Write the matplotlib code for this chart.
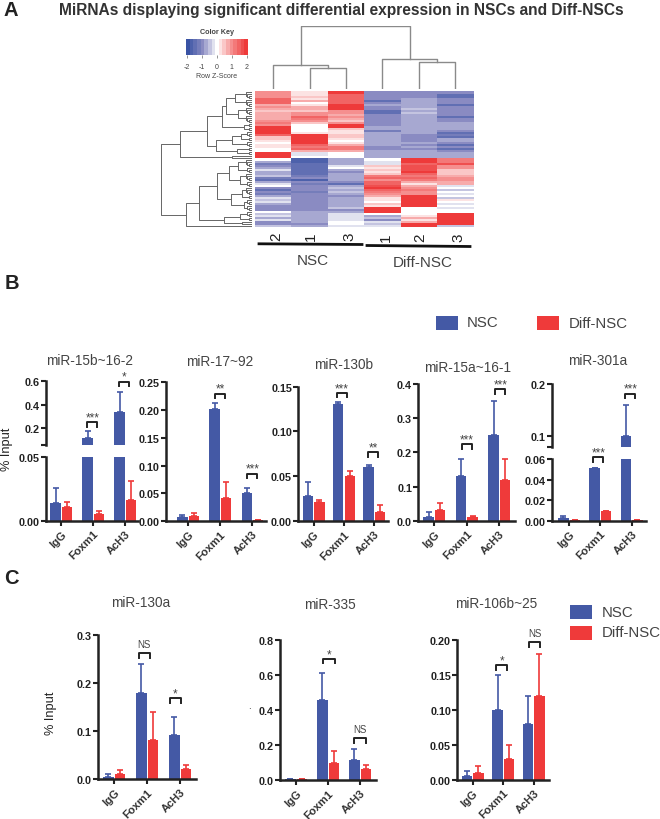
import numpy as np
import matplotlib
matplotlib.use('Agg')
import matplotlib.pyplot as plt
from matplotlib.colors import LinearSegmentedColormap
from matplotlib.patches import Rectangle

plt.rcParams['font.family'] = ['Liberation Sans', 'DejaVu Sans']

W, H = 660, 820
BLUE = '#4459A5'
RED = '#EF3A3A'
DARK = '#222222'
TEXT = '#444444'

# heatmap z-scores, one list per column, rows top to bottom
sample_labels = ['2', '1', '3', '1', '2', '3']
nsc_2 = [.9, .9, .9, .9, 1.3, 1.3, 1.3, .7, .9, .6, .4, .7, .8, .6, .8, 1.0, 1.1, .9,
         1.9, 1.9, 1.9, 1.9, 1.5, .5, .4, .3, .05, .3, .2, .1, .05, 2, 2, 2,
         .1, -.6, -1.1, -1, -.8, -.3, -.6, -.8, -.5, -1.2, -1.4, -.8, -.3, 0, -1, -1.3, -.9, -1.2, -.6, -.3,
         -.5, -.3, -.6, -1, -1, -1, 0, -.4, -.3, -.6, -.3, -1, -.9, -.5]
nsc_1 = [.2, .2, .2, .5, .3, .6, 0, .3, .6, .7, .5, .9, 1, 1.3, 1.1, .9, .5, 0,
         0, 0, 0, .3, 1.9, 1.9, 1.9, 1.9, 1.9, 1.5, 1.1, 1.4, .7, -.2, -.3, -.1,
         -1.7, -1.7, -1.5, -1.5, -1.5, -1.5, -1.5, -1.4, -1.1, -1, -1.7, -.9, -1.2, -1, -.9, -1, -1.1, -.9, -1, -1,
         -1, -1, -1, -.9, -1, -.9, -.8, -.7, -.7, -.7, -.7, -.7, -1, -.8]
nsc_3 = [1.8, 1.8, 1.3, 1.3, 1.3, 1.3, 1.5, 1.8, 1.8, 1.8, 1, 1, .8, .9, .6, .5, .9, 1.9,
         1.9, .5, .3, .2, .4, .4, .3, 0, .2, .6, 1.2, 1.1, .8, 0, .1, 0,
         -.7, -.7, -.7, -.3, 0, -.6, -1, -.7, -.7, -.7, -.7, -1, -1.4, -.8, -.5, -.8, -.5, -.7, -.9, -.7,
         -.6, -.6, -.6, -.7, -.5, -.9, -.7, -.25, -.25, -.25, -.25, 0, 0, -.3]
diff_1 = [-1, -1, -1, -1, -1, -1.4, -1, -.7, -1, -1, -1.4, -1.4, -.9, -1, -1, -1, -1, -.9,
          -.6, -.7, -1.2, -.8, -.7, -.7, -.7, -.7, -.7, -.7, -1, -1, -.8, -.6, -.6, -.6,
          0, -.2, -.2, .4, .3, .5, .2, .4, 1.2, 1.4, 1, 1.5, 1.4, 1.7, 1.9, 1.5, 1.1, .9, .6, .3,
          .2, 0, .4, .2, 2, 2, 2, -.1, -.7, -.5, -1, -.3, -.4, -.3]
diff_2 = [-1, -1, -1, -1, -.6, -.6, -.6, -.6, -.8, -.5, -.8, -.5, -.7, -.7, -.7, -.7, -.7, -.6,
          -.6, -.6, -.6, -.6, -1, -1, -1, -1, -.7, -1, -.6, -1, -.6, -.6, -.6, -.6,
          1.9, 1.9, 1.4, 1.7, 1.7, 1.7, 1.9, 1.5, 1.2, 1.5, 1.2, .8, .3, .7, 1, 1.1, .9, .9, 2, 2,
          2, 2, 2, 2, 0, 0, 0, 0, .3, .6, .3, .6, 1.9, 1.9]
diff_3 = [-1, -1, -1.3, -1.5, -1, -1, -1, -1.5, -1, -1, -1, -1, -1, -1.4, -.9, -.9, -.8, -.8,
          -.8, -.6, -.9, -1.3, -1.1, -1.5, -.8, -.7, -1, -1.4, -1, -1.4, -.9, -.7, -.7, -.7,
          1.1, 1.1, 1.7, 1, 1, .5, .5, .5, .8, 1, .9, .8, .7, -.2, 0, -.5, 0, -.3, .1, -.4,
          .2, 0, -.2, 0, -.2, 0, 0, 2, 2, 2, 2, 2, 2, -.5]

# dendrograms: (merge height, left, right); an int is that many neighbouring leaves
col_tree = (63, (24, 1, (21, 1, 1)), (30, 1, (27, 1, 1)))
row_tree = (90.7,
            (71.7,
             (45,
              (30, (25.7, (16.7, 4, 4), (14, 4, 4)), (8, 2, 2)),
              (36, (20, (11, 3, 2), 3), (15, 2, 2))),
             (20, 1, 1)),
            (66,
             (53,
              (35,
               (23, (14, 4, 3), (12, 4, 3)),
               (21, (10, 4, 2), (8, 3, 3))),
              (28, (12, 3, 2), (10, 1, 1))),
             1))

groups = ['IgG', 'Foxm1', 'AcH3']

# panel B bars
b1_nsc, b1_nsc_err = [.0136, .111, .34], [.026, .177, .51]
b1_diff, b1_diff_err = [.011, .005, .0165], [.0144, .008, .031]
b2_nsc, b2_nsc_err = [.007, .201, .051], [.011, .212, .06]
b2_diff, b2_diff_err = [.009, .041, .002], [.015, .07, .002]
b3_nsc, b3_nsc_err = [.028, .1306, .0604], [.044, .133, .0627]
b3_diff, b3_diff_err = [.021, .05, .01], [.024, .056, .0175]
b4_nsc, b4_nsc_err = [.012, .132, .252], [.025, .18, .35]
b4_diff, b4_diff_err = [.03, .01, .12], [.053, .015, .18]
b5_nsc, b5_nsc_err = [.003, .051, .1], [.005, .0515, .16]
b5_diff, b5_diff_err = [.001, .0095, .001], [.001, .0095, .001]

# panel C bars
c1_nsc, c1_nsc_err = [.005, .18, .092], [.01, .24, .13]
c1_diff, c1_diff_err = [.01, .082, .021], [.018, .14, .03]
c2_nsc, c2_nsc_err = [.005, .46, .112], [.005, .61, .177]
c2_diff, c2_diff_err = [.005, .1, .061], [.005, .168, .088]
c3_nsc, c3_nsc_err = [.006, .1, .08], [.013, .15, .12]
c3_diff, c3_diff_err = [.01, .03, .12], [.02, .05, .18]

fig = plt.figure(figsize=(W / 100, H / 100), dpi=100)


def add_ax(x0, y0, x1, y1):
    # pixel box measured from the top left of the figure
    return fig.add_axes([x0 / W, 1 - y1 / H, (x1 - x0) / W, (y1 - y0) / H])


over = add_ax(0, 0, W, H)
over.set_xlim(0, W)
over.set_ylim(H, 0)
over.axis('off')
over.set_zorder(10)


def draw_tree(ax, node, counter, horizontal):
    if isinstance(node, int):
        if node == 1:
            pos = counter[0] + 0.5
            counter[0] += 1
            return pos, 0
        return draw_tree(ax, (1.5 * node, 1, node - 1), counter, horizontal)
    h, left, right = node
    p0, h0 = draw_tree(ax, left, counter, horizontal)
    p1, h1 = draw_tree(ax, right, counter, horizontal)
    if horizontal:
        ax.plot([p0, p0, p1, p1], [h0, h, h, h1], color='#8a8a8a', lw=1)
    else:
        ax.plot([h0, h, h, h1], [p0, p0, p1, p1], color='#666666', lw=0.7)
    return (p0 + p1) / 2, h


# panel A
cmap = LinearSegmentedColormap.from_list(
    'key', ['#3953A4', '#8A8BC2', '#FFFFFF', '#F58F8F', '#EE3A3A'], N=17)
matrix = np.array([nsc_2, nsc_1, nsc_3, diff_1, diff_2, diff_3]).T

ax = add_ax(255, 92, 473.5, 228.5)
ax.imshow(matrix, cmap=cmap, vmin=-2, vmax=2, aspect='auto', interpolation='nearest')
ax.axis('off')

ax = add_ax(255, 27, 473.5, 90)
draw_tree(ax, col_tree, [0], True)
ax.set_xlim(0, 6)
ax.set_ylim(0, 63)
ax.axis('off')

ax = add_ax(161, 92, 252, 228.5)
draw_tree(ax, row_tree, [0], False)
ax.set_xlim(90.7, 0)
ax.set_ylim(matrix.shape[0], 0)
ax.axis('off')

ax = add_ax(186, 40, 247.7, 56)
ax.imshow(np.linspace(-2, 2, 17)[None, :], cmap=cmap, vmin=-2, vmax=2, aspect='auto',
          extent=(-2.05, 2.05, 0, 1), interpolation='nearest')
ax.set_yticks([])
ax.set_xticks([-2, -1, 0, 1, 2], ['-2', '-1', '0', '1', '2'], fontsize=5, color=TEXT)
ax.tick_params(axis='x', length=2.5, width=0.4, pad=3, color=TEXT)
for s in ax.spines.values():
    s.set_visible(False)
over.text(216.7, 33, 'Color Key', fontsize=5.2, fontweight='bold', color=TEXT, ha='center', va='center')
over.text(216.7, 76.7, 'Row Z-Score', fontsize=5, color=TEXT, ha='center', va='center')

for lab, x, y in zip(sample_labels, [276.7, 311, 349, 385.7, 420.7, 458], [236.5, 236.5, 236.5, 238, 238, 238]):
    over.text(x, y, lab, fontsize=11, color=DARK, rotation=90, ha='center', va='center')
over.plot([259, 362], [244.8, 245.5], color='#111111', lw=2)
over.plot([367, 470], [246.5, 247.5], color='#111111', lw=2)
over.text(312.7, 261, 'NSC', fontsize=11, color=TEXT, ha='center', va='center')
over.text(422.7, 263, 'Diff-NSC', fontsize=11, color=TEXT, ha='center', va='center')

over.text(341, 10, 'MiRNAs displaying significant differential expression in NSCs and Diff-NSCs',
          fontsize=11.2, fontweight='bold', color='#333333', ha='center', va='center')
over.text(10.7, 10, 'A', fontsize=14.5, fontweight='bold', color=DARK, ha='center', va='center')
over.text(12, 284, 'B', fontsize=14.5, fontweight='bold', color=DARK, ha='center', va='center')
over.text(11, 579, 'C', fontsize=14.5, fontweight='bold', color=DARK, ha='center', va='center')


def style_axis(ax, fmt_ticks, labels):
    for s in ['top', 'right']:
        ax.spines[s].set_visible(False)
    for s in ['left', 'bottom']:
        ax.spines[s].set_linewidth(1.8)
        ax.spines[s].set_color(DARK)
    ax.set_yticks(fmt_ticks, labels, fontsize=7.8, fontweight='bold', color=DARK)
    ax.tick_params(axis='y', length=3.5, width=1.5, pad=1, color=DARK)


def draw_bars(ax, nsc, nsc_err, diff, diff_err, bar, off):
    x = np.arange(3)
    ax.bar(x - off, nsc, bar, color=BLUE)
    ax.bar(x + off, diff, bar, color=RED)
    for xs, vals, err, col in [(x - off, nsc, nsc_err, BLUE), (x + off, diff, diff_err, RED)]:
        up = [max(e - v, 0) for v, e in zip(vals, err)]
        ax.errorbar(xs, vals, yerr=[[0] * 3, up], fmt='none', ecolor=col, elinewidth=1.2,
                    capsize=1.9, capthick=1.2)


def bracket(ax, xc, y, label, half=5):
    px = ax.transData.transform((xc, y))
    xp, yp = px[0], H - px[1]
    over.plot([xp - half, xp - half, xp + half, xp + half], [yp + 4.5, yp, yp, yp + 4.5], color=DARK, lw=1.4)
    if label == 'NS':
        over.text(xp, yp - 9, label, fontsize=7, color=TEXT, ha='center', va='center')
    else:
        over.text(xp, yp - 5, label, fontsize=8.5, color=TEXT, ha='center', va='center')


def panel(title, title_xy, spine_x, right_x, c0, step, base_y, top_y, ymax, ticks, labels,
          nsc, nsc_err, diff, diff_err, sig, upper=None, half=5):
    # upper = (top px, bottom px, low value, high value, ticks, labels) of the part above the break
    xlim = ((spine_x - c0) / step, (right_x - c0) / step)
    bar, off = 10.4 / step, 5.7 / step
    ax = add_ax(spine_x, top_y, right_x, base_y)
    draw_bars(ax, nsc, nsc_err, diff, diff_err, bar, off)
    ax.set_xlim(xlim)
    ax.set_ylim(0, ymax)
    style_axis(ax, ticks, labels)
    ax.set_xticks(np.arange(3), groups, rotation=45, ha='right', rotation_mode='anchor',
                  fontsize=8, fontweight='bold', color='#333333')
    ax.tick_params(axis='x', length=3.5, width=1.5, pad=2, color=DARK)
    top = None
    if upper is not None:
        up_y0, up_y1, low, up_max, up_ticks, up_labels = upper
        top = add_ax(spine_x, up_y0, right_x, up_y1)
        draw_bars(top, nsc, nsc_err, diff, diff_err, bar, off)
        top.set_xlim(xlim)
        top.set_ylim(low, up_max)
        style_axis(top, [low] + up_ticks, [''] + up_labels)
        top.spines['bottom'].set_visible(False)
        top.set_xticks([])
    for xc, y, lab in sig:
        use = top if (top is not None and y > low) else ax
        bracket(use, xc, y, lab, half)
    over.text(title_xy[0], title_xy[1], title, fontsize=9.8, color=TEXT, ha='center', va='center')
    return ax


panel('miR-15b~16-2', (89, 361), 46, 138, 61.3, 32, 521.7, 458, .05, [0, .05], ['0.00', '0.05'],
      b1_nsc, b1_nsc_err, b1_diff, b1_diff_err,
      [(.97, .251, '***'), (1.97, .597, '*')],
      upper=(382.3, 446, .054, .6, [.2, .4, .6], ['0.2', '0.4', '0.6']))
panel('miR-17~92', (220, 362), 165.7, 265.7, 188, 32.2, 522, 383.3, .25,
      [0, .05, .1, .15, .2, .25], ['0.00', '0.05', '0.10', '0.15', '0.20', '0.25'],
      b2_nsc, b2_nsc_err, b2_diff, b2_diff_err,
      [(1, .2295, '**'), (2, .0855, '***')])
panel('miR-130b', (344, 365), 298.3, 388, 313.7, 30.3, 522, 387.7, .15,
      [0, .05, .1, .15], ['0.00', '0.05', '0.10', '0.15'],
      b3_nsc, b3_nsc_err, b3_diff, b3_diff_err,
      [(.92, .143, '***'), (1.96, .077, '**')])
panel('miR-15a~16-1', (468, 368), 418.3, 515, 434.3, 32.5, 521.7, 385, .4,
      [0, .1, .2, .3, .4], ['0.0', '0.1', '0.2', '0.3', '0.4'],
      b4_nsc, b4_nsc_err, b4_diff, b4_diff_err,
      [(1, .224, '***'), (2.03, .385, '***')])
panel('miR-301a', (598, 361), 551.7, 646, 569, 31.3, 521.7, 460, .06,
      [0, .02, .04, .06], ['0.00', '0.02', '0.04', '0.06'],
      b5_nsc, b5_nsc_err, b5_diff, b5_diff_err,
      [(.94, .0616, '***'), (1.96, .181, '***')],
      upper=(385, 447.7, .08, .2, [.1, .2], ['0.1', '0.2']))

panel('miR-130a', (140.7, 602.7), 97.7, 196, 114, 33, 780, 636, .3,
      [0, .1, .2, .3], ['0.0', '0.1', '0.2', '0.3'],
      c1_nsc, c1_nsc_err, c1_diff, c1_diff_err,
      [(.92, .262, 'NS'), (1.86, .168, '*')], half=5.7)
panel('miR-335', (330, 604.7), 280, 375.7, 296, 32, 781, 641.3, .8,
      [0, .2, .4, .6, .8], ['0.0', '0.2', '0.4', '0.6', '0.8'],
      c2_nsc, c2_nsc_err, c2_diff, c2_diff_err,
      [(1.03, .693, '*'), (2, .238, 'NS')], half=5.7)
panel('miR-106b~25', (496, 604), 457.3, 549, 472.7, 30.5, 780.7, 641.3, .2,
      [0, .05, .1, .15, .2], ['0.00', '0.05', '0.10', '0.15', '0.20'],
      c3_nsc, c3_nsc_err, c3_diff, c3_diff_err,
      [(.95, .164, '*'), (2.03, .197, 'NS')], half=5.7)

over.text(7, 449, '% Input', fontsize=9.2, color=DARK, rotation=90, ha='center', va='center')
over.text(50.7, 713, '% Input', fontsize=9.2, color=DARK, rotation=90, ha='center', va='center')
over.text(249, 706, '.', fontsize=7, color=DARK, ha='center', va='center')

# legends
for x, y, col in [(436, 317, BLUE), (537, 317, RED), (570, 606, BLUE), (570, 626.7, RED)]:
    over.add_patch(Rectangle((x, y), 22, 14, facecolor=col, edgecolor='none'))
for x, y, lab in [(467, 323, 'NSC'), (569, 324, 'Diff-NSC'), (601.7, 612.6, 'NSC'), (601.7, 633, 'Diff-NSC')]:
    over.text(x, y, lab, fontsize=10.8, color=TEXT, ha='left', va='center')

fig.savefig('out.png', dpi=100)
